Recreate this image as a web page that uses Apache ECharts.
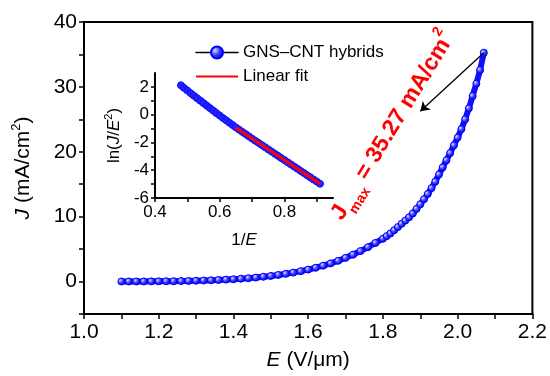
<!DOCTYPE html>
<html>
<head>
<meta charset="utf-8">
<script src="https://cdn.jsdelivr.net/npm/echarts@6/dist/echarts.min.js"></script>
<style>
  html, body { margin: 0; padding: 0; background: #fff; }
  #chart { width: 550px; height: 376px; }
</style>
</head>
<body>
<div id="chart"></div>
<script>
// main J-E curve
const fieldE = [1.10, 1.12, 1.14, 1.16, 1.18, 1.20, 1.22, 1.24, 1.26, 1.28,
  1.30, 1.32, 1.34, 1.36, 1.38, 1.40, 1.42, 1.44, 1.46, 1.48,
  1.50, 1.52, 1.54, 1.56, 1.58, 1.60, 1.62, 1.64, 1.66, 1.68,
  1.70, 1.72, 1.74, 1.76, 1.78, 1.80, 1.81, 1.82, 1.83, 1.84,
  1.85, 1.86, 1.87, 1.88, 1.89, 1.90, 1.91, 1.92, 1.93, 1.94,
  1.95, 1.96, 1.97, 1.98, 1.99, 2.00, 2.01, 2.02, 2.03, 2.04,
  2.05, 2.06, 2.07]
const currentJ = [0.01, 0.01, 0.02, 0.02, 0.03, 0.04, 0.05, 0.06, 0.08, 0.10,
  0.13, 0.16, 0.20, 0.25, 0.30, 0.36, 0.44, 0.52, 0.62, 0.74,
  0.87, 1.02, 1.19, 1.38, 1.60, 1.85, 2.13, 2.45, 2.80, 3.20,
  3.65, 4.15, 4.70, 5.30, 5.95, 6.60, 7.00, 7.40, 7.90, 8.40,
  8.90, 9.40, 9.90, 10.5, 11.2, 11.9, 12.7, 13.5, 14.4, 15.4,
  16.5, 17.6, 18.7, 19.8, 21.0, 22.2, 23.5, 25.0, 26.7, 28.6,
  30.5, 32.6, 35.27]

// inset FN plot
const invE = [0.48, 0.49, 0.50, 0.51, 0.52, 0.53, 0.54, 0.55, 0.56, 0.57,
  0.58, 0.59, 0.60, 0.61, 0.62, 0.63, 0.64, 0.65, 0.66, 0.67,
  0.68, 0.69, 0.70, 0.71, 0.72, 0.73, 0.74, 0.75, 0.76, 0.77,
  0.78, 0.79, 0.80, 0.81, 0.82, 0.83, 0.84, 0.85, 0.86, 0.87,
  0.88, 0.89, 0.90, 0.91]
const lnJE2 = [2.12, 1.92, 1.74, 1.55, 1.37, 1.19, 1.01, 0.83, 0.65, 0.47,
  0.29, 0.11, -0.06, -0.24, -0.41, -0.58, -0.75, -0.92, -1.08, -1.24,
  -1.40, -1.56, -1.72, -1.88, -2.03, -2.19, -2.34, -2.50, -2.65, -2.81,
  -2.96, -3.12, -3.27, -3.43, -3.58, -3.74, -3.89, -4.05, -4.20, -4.36,
  -4.51, -4.67, -4.82, -4.98]
const fitX = [0.65, 0.91]
const fitY = [-0.95, -4.98]

// ticks
const mainXTicks = [1.0, 1.1, 1.2, 1.3, 1.4, 1.5, 1.6, 1.7, 1.8, 1.9, 2.0, 2.1, 2.2]
const mainXLabels = [1.0, 1.2, 1.4, 1.6, 1.8, 2.0, 2.2]
const mainYTicks = [-5, 0, 5, 10, 15, 20, 25, 30, 35, 40]
const mainYLabels = [0, 10, 20, 30, 40]
const insetXTicks = [0.4, 0.5, 0.6, 0.7, 0.8, 0.9]
const insetXLabels = [0.4, 0.6, 0.8]
const insetYTicks = [-6, -5, -4, -3, -2, -1, 0, 1, 2]
const insetYLabels = [-6, -4, -2, 0, 2]

// Jmax arrow
const arrowFrom = [2.07, 35.27]
const arrowTo = [1.90, 26.25]

const FONT = 'Liberation Sans, Arial, sans-serif'
const zip = (a, b) => a.map((v, i) => [v, b[i]])

const ball = new echarts.graphic.RadialGradient(0.35, 0.35, 0.7, [
  { offset: 0, color: '#d8d8ff' },
  { offset: 0.5, color: '#3a3aff' },
  { offset: 1, color: '#0000c8' }
])

const chart = echarts.init(document.getElementById('chart'), null, { renderer: 'canvas' })

const axisCommon = {
  axisLine: { show: true, onZero: false, lineStyle: { color: '#000', width: 2 } },
  splitLine: { show: false },
  nameTextStyle: { color: '#000', fontFamily: FONT }
}

const option = {
  animation: false,
  backgroundColor: '#fff',
  textStyle: { fontFamily: FONT },
  legend: {
    orient: 'vertical',
    left: 190,
    top: 39,
    itemWidth: 42,
    itemHeight: 15,
    itemGap: 7,
    textStyle: { fontSize: 17, color: '#000', fontFamily: FONT },
    data: [
      { name: 'GNS\u2013CNT hybrids', lineStyle: { color: '#000', width: 1.5 } },
      { name: 'Linear fit', itemStyle: { color: 'rgba(0,0,0,0)', opacity: 0 } }
    ]
  },
  grid: [
    { left: 84, right: 16, top: 22, bottom: 60, show: true, borderColor: '#000', borderWidth: 2 },
    { left: 155, top: 73, width: 178, height: 125 }
  ],
  xAxis: [
    Object.assign({}, axisCommon, {
      type: 'value', gridIndex: 0, min: 1.0, max: 2.2, interval: 0.2,
      name: '{i|E} (V/\u03bcm)',
      nameLocation: 'middle', nameGap: 36,
      nameTextStyle: { color: '#000', fontSize: 21, fontFamily: FONT, rich: { i: { fontStyle: 'italic', fontSize: 21 } } },
      axisTick: { show: true, length: 5, lineStyle: { width: 1.5 }, customValues: mainXTicks },
      axisLabel: { fontSize: 21, color: '#000', margin: 8, customValues: mainXLabels, formatter: v => v.toFixed(1) }
    }),
    Object.assign({}, axisCommon, {
      type: 'value', gridIndex: 1, min: 0.4, max: 0.95,
      name: '1/{i|E}',
      nameLocation: 'middle', nameGap: 34,
      nameTextStyle: { color: '#000', fontSize: 17, fontFamily: FONT, rich: { i: { fontStyle: 'italic', fontSize: 17 } } },
      axisTick: { show: true, length: 4, lineStyle: { width: 1.5 }, customValues: insetXTicks },
      axisLabel: { fontSize: 17, color: '#000', margin: 6, customValues: insetXLabels, formatter: v => v.toFixed(1) }
    })
  ],
  yAxis: [
    Object.assign({}, axisCommon, {
      type: 'value', gridIndex: 0, min: -5, max: 40,
      name: '{i|J} (mA/cm{s|2})',
      nameLocation: 'middle', nameGap: 48,
      nameTextStyle: {
        color: '#000', fontSize: 21, fontFamily: FONT, lineHeight: 26,
        rich: { i: { fontStyle: 'italic', fontSize: 21, lineHeight: 26 }, s: { fontSize: 13, verticalAlign: 'top', lineHeight: 14 } }
      },
      axisTick: { show: true, length: 5, lineStyle: { width: 1.5 }, customValues: mainYTicks },
      axisLabel: { fontSize: 21, color: '#000', margin: 7, customValues: mainYLabels }
    }),
    Object.assign({}, axisCommon, {
      type: 'value', gridIndex: 1, min: -6, max: 3,
      name: 'ln({i|J}/{i|E}{s|2})',
      nameLocation: 'middle', nameGap: 30,
      nameTextStyle: {
        color: '#000', fontSize: 17, fontFamily: FONT, lineHeight: 22,
        rich: { i: { fontStyle: 'italic', fontSize: 17, lineHeight: 22 }, s: { fontSize: 11, verticalAlign: 'top', lineHeight: 12 } }
      },
      axisTick: { show: true, length: 4, lineStyle: { width: 1.5 }, customValues: insetYTicks },
      axisLabel: { fontSize: 17, color: '#000', margin: 6, customValues: insetYLabels }
    })
  ],
  series: [
    {
      name: 'GNS\u2013CNT hybrids',
      type: 'line',
      xAxisIndex: 0,
      yAxisIndex: 0,
      data: zip(fieldE, currentJ),
      symbol: 'circle',
      symbolSize: 7,
      showAllSymbol: true,
      lineStyle: { color: '#1010ff', width: 6, cap: 'round', join: 'round' },
      itemStyle: { color: ball, borderColor: '#0000ff', borderWidth: 1 },
      z: 3,
      markLine: {
        silent: true,
        symbol: ['none', 'arrow'],
        symbolSize: 9,
        label: { show: false },
        lineStyle: { color: '#000', width: 1.3, type: 'solid' },
        data: [[{ coord: arrowFrom }, { coord: arrowTo }]]
      }
    },
    {
      name: 'inset',
      type: 'line',
      xAxisIndex: 1,
      yAxisIndex: 1,
      data: zip(invE, lnJE2),
      symbol: 'circle',
      symbolSize: 7,
      showAllSymbol: true,
      lineStyle: { color: '#1a1aff', width: 7, cap: 'round' },
      itemStyle: { color: '#2222ff', borderColor: '#0000ff', borderWidth: 0.5 },
      z: 3
    },
    {
      name: 'Linear fit',
      type: 'line',
      xAxisIndex: 1,
      yAxisIndex: 1,
      data: zip(fitX, fitY),
      symbol: 'none',
      lineStyle: { color: '#ff0000', width: 3 },
      itemStyle: { color: '#ff0000' },
      z: 4
    }
  ],
  graphic: [
    {
      type: 'text',
      x: 393,
      y: 126,
      rotation: 58.5 * Math.PI / 180,
      z: 10,
      style: {
        text: '{b|J}{sub|max}{b| = 35.27 mA/cm}{sup|2}',
        align: 'center',
        verticalAlign: 'middle',
        fill: '#ff0000',
        rich: {
          b: { fontSize: 23, fontWeight: 'bold', fontFamily: FONT, fill: '#ff0000', lineHeight: 36 },
          sub: { fontSize: 14, fontWeight: 'bold', fontFamily: FONT, fill: '#ff0000', verticalAlign: 'bottom', lineHeight: 16 },
          sup: { fontSize: 14, fontWeight: 'bold', fontFamily: FONT, fill: '#ff0000', verticalAlign: 'top', lineHeight: 16 }
        }
      }
    }
  ]
}

chart.setOption(option)
window.addEventListener('resize', function () {
  chart.resize()
})
</script>
</body>
</html>
